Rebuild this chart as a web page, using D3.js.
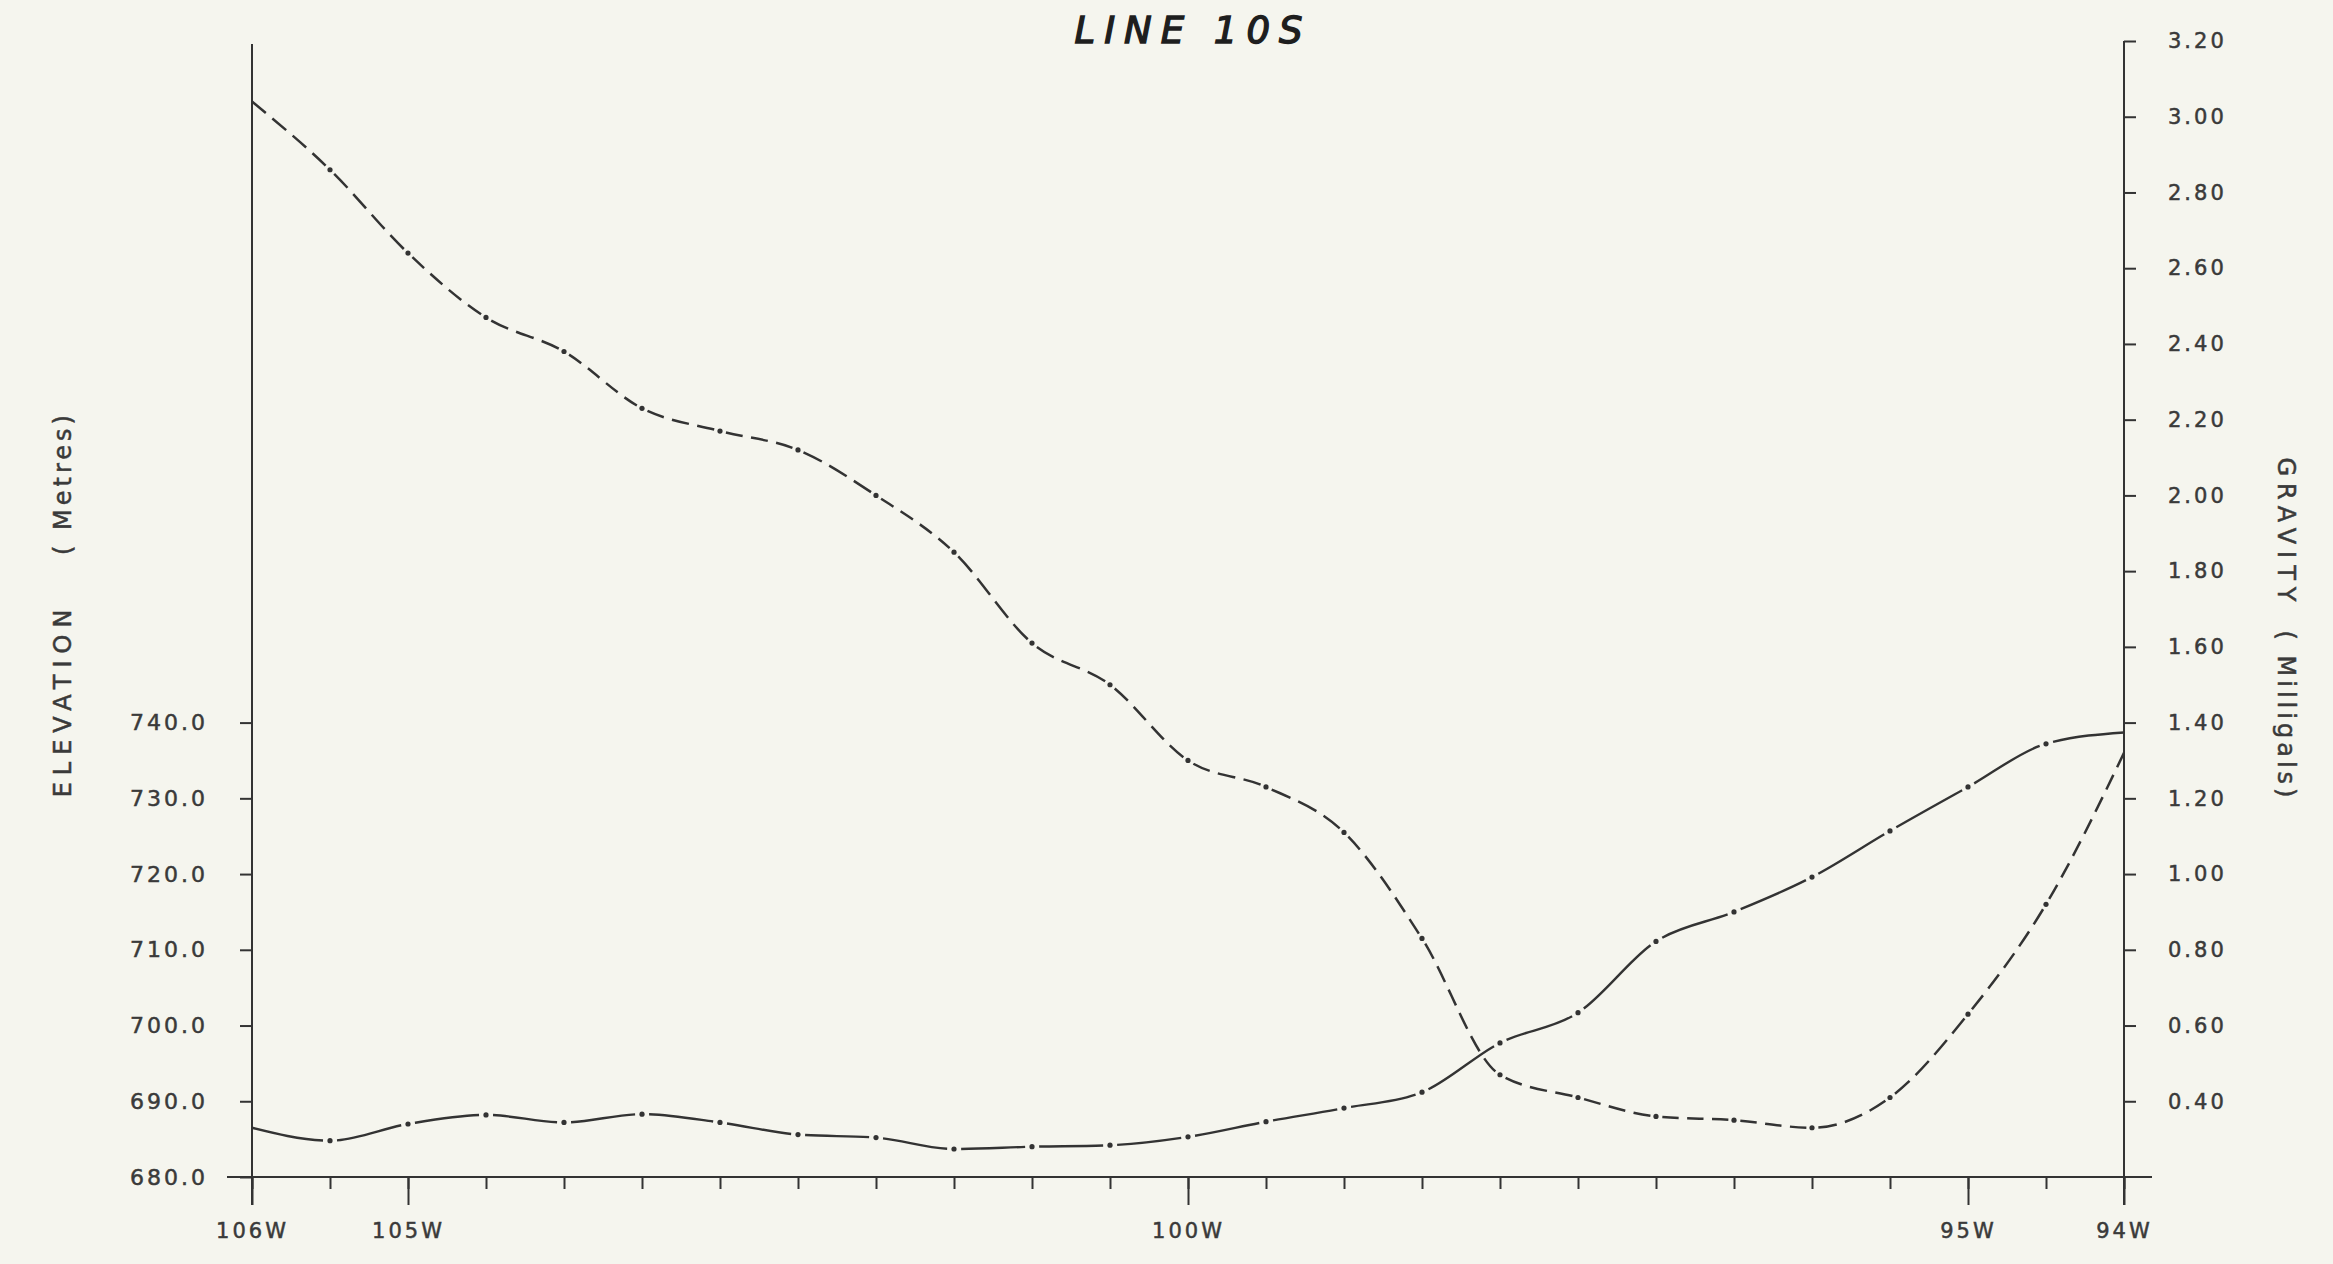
<!DOCTYPE html>
<html>
<head>
<meta charset="utf-8">
<script src="https://cdn.jsdelivr.net/npm/d3@7"></script>
<style>
  html, body { margin: 0; padding: 0; background: #f5f5ee; }
  svg { display: block; }
  text { font-family: 'DejaVu Sans', sans-serif; }
</style>
</head>
<body>
<div id="chart"></div>
<script>
// stations every half degree along the line (degrees west)
const stations = [106, 105.5, 105, 104.5, 104, 103.5, 103, 102.5, 102, 101.5, 101, 100.5,
  100, 99.5, 99, 98.5, 98, 97.5, 97, 96.5, 96, 95.5, 95, 94.5, 94]

// gravity, milligals (dashed curve)
const gravity = [3.04, 2.86, 2.64, 2.47, 2.38, 2.23, 2.17, 2.12, 2.0, 1.85, 1.61, 1.5,
  1.3, 1.23, 1.11, 0.83, 0.47, 0.41, 0.36, 0.35, 0.33, 0.41, 0.63, 0.92, 1.32]

// elevation, metres (long dash curve)
const elevation = [686.5, 684.8, 687.0, 688.2, 687.2, 688.3, 687.2, 685.6, 685.2, 683.7, 684.0, 684.2,
  685.3, 687.3, 689.1, 691.2, 697.7, 701.7, 711.1, 715.0, 719.6, 725.7, 731.5, 737.2, 738.7]

const gravityTicks = [0.4, 0.6, 0.8, 1.0, 1.2, 1.4, 1.6, 1.8, 2.0, 2.2, 2.4, 2.6, 2.8, 3.0, 3.2]
const elevationTicks = [680, 690, 700, 710, 720, 730, 740]
const labelledStations = [106, 105, 100, 95, 94]

const width = 2333
const height = 1264
const ink = '#333'

const svg = d3
  .select('#chart')
  .append('svg')
  .attr('width', width)
  .attr('height', height)

svg
  .append('rect')
  .attr('width', width)
  .attr('height', height)
  .attr('fill', '#f5f5ee')

const x = d3.scaleLinear().domain([106, 94]).range([252, 2124])
const yGrav = d3.scaleLinear().domain([0.2, 3.2]).range([1177, 41])
const yElev = d3.scaleLinear().domain([680, 830]).range([1177, 41])

const baseY = yElev(680)

// axis frame lines
const frame = svg.append('g').attr('stroke', ink).attr('stroke-width', 2)
frame.append('line')
  .attr('x1', x(106) - 25).attr('x2', x(94) + 28)
  .attr('y1', baseY).attr('y2', baseY)
frame.append('line')
  .attr('x1', x(106)).attr('x2', x(106))
  .attr('y1', yGrav(3.2) + 3).attr('y2', baseY + 28)
frame.append('line')
  .attr('x1', x(94)).attr('x2', x(94))
  .attr('y1', yGrav(3.2)).attr('y2', baseY + 28)

function styleAxis(g, size) {
  g.select('.domain').remove()
  g.selectAll('.tick line').attr('stroke', ink).attr('stroke-width', 2)
  g.selectAll('.tick text')
    .attr('fill', '#3a3a3a')
    .attr('stroke', '#3a3a3a')
    .attr('stroke-width', 0.5)
    .attr('font-size', size)
    .attr('letter-spacing', 3)
    .style('font-family', "'DejaVu Sans', sans-serif")
}

// left elevation axis
svg
  .append('g')
  .attr('transform', `translate(${x(106)},0)`)
  .call(
    d3.axisLeft(yElev)
      .tickValues(elevationTicks)
      .tickSize(12)
      .tickPadding(32)
      .tickFormat(d3.format('.1f'))
  )
  .call(g => styleAxis(g, 22))

// right gravity axis
svg
  .append('g')
  .attr('transform', `translate(${x(94)},0)`)
  .call(
    d3.axisRight(yGrav)
      .tickValues(gravityTicks)
      .tickSize(12)
      .tickPadding(32)
      .tickFormat(d3.format('.2f'))
  )
  .call(g => styleAxis(g, 21))

// bottom axis, minor ticks at each station
svg
  .append('g')
  .attr('transform', `translate(0,${baseY})`)
  .call(d3.axisBottom(x).tickValues(stations).tickSize(12).tickFormat(''))
  .call(g => styleAxis(g, 21))

// bottom axis, labelled degrees
svg
  .append('g')
  .attr('transform', `translate(0,${baseY})`)
  .call(
    d3.axisBottom(x)
      .tickValues(labelledStations)
      .tickSize(28)
      .tickPadding(18)
      .tickFormat(d => d + 'W')
  )
  .call(g => styleAxis(g, 21))

// curves
const line = d3
  .line()
  .x(d => x(d.lon))
  .y(d => d.y)
  .curve(d3.curveMonotoneX)

const gravPts = stations.map((s, i) => ({ lon: s, y: yGrav(gravity[i]) }))
const elevPts = stations.map((s, i) => ({ lon: s, y: yElev(elevation[i]) }))

function stationLengths(node, pts) {
  const total = node.getTotalLength()
  return pts.map((p, i) => {
    if (i === 0) return 0
    if (i === pts.length - 1) return total
    const tx = x(p.lon)
    let lo = 0
    let hi = total
    for (let k = 0; k < 40; k++) {
      const mid = (lo + hi) / 2
      if (node.getPointAtLength(mid).x < tx) lo = mid
      else hi = mid
    }
    return (lo + hi) / 2
  })
}

// builds a dasharray that leaves a gap round every station dot
function dashPattern(lengths, gap, dash, space) {
  const runs = []
  for (let i = 0; i < lengths.length - 1; i++) {
    const L = lengths[i + 1] - lengths[i]
    const g0 = i === 0 ? 0 : gap
    const g1 = i === lengths.length - 2 ? 0 : gap
    const avail = L - g0 - g1
    runs.push([false, g0])
    if (dash == null) {
      runs.push([true, avail])
    } else {
      const k = Math.max(1, Math.round((avail + space) / (dash + space)))
      const d = (avail - (k - 1) * space) / k
      for (let j = 0; j < k; j++) {
        if (j) runs.push([false, space])
        runs.push([true, d])
      }
    }
    runs.push([false, g1])
  }
  const arr = []
  let cur = true
  let acc = 0
  runs.forEach(([on, len]) => {
    if (on === cur) acc += len
    else {
      arr.push(acc)
      cur = on
      acc = len
    }
  })
  arr.push(acc)
  if (arr.length % 2) arr.push(0)
  return arr.map(v => v.toFixed(2)).join(' ')
}

function drawCurve(pts, cls, gap, dash, space, sw) {
  const path = svg
    .append('path')
    .datum(pts)
    .attr('class', cls)
    .attr('d', line)
    .attr('fill', 'none')
    .attr('stroke', ink)
    .attr('stroke-width', sw)
    .attr('stroke-linecap', 'butt')

  const lengths = stationLengths(path.node(), pts)
  path.attr('stroke-dasharray', dashPattern(lengths, gap, dash, space))

  svg
    .append('g')
    .selectAll('circle')
    .data(pts.slice(1, -1))
    .enter()
    .append('circle')
    .attr('cx', d => x(d.lon))
    .attr('cy', d => d.y)
    .attr('r', 2.6)
    .attr('fill', ink)
}

drawCurve(elevPts, 'elevation', 7, null, null, 2.4)
drawCurve(gravPts, 'gravity', 6, 18, 8.5, 2.5)

// titles
svg
  .append('text')
  .text('LINE 10S')
  .attr('x', (x(106) + x(94)) / 2 + 5)
  .attr('y', 43)
  .attr('text-anchor', 'middle')
  .attr('font-size', 37)
  .attr('font-style', 'italic')
  .attr('letter-spacing', 9)
  .attr('fill', '#1e1e1e')
  .attr('stroke', '#1e1e1e')
  .attr('stroke-width', 1.4)

function sideLabel(txt, cx, cy, angle, spacing) {
  svg
    .append('text')
    .text(txt)
    .attr('transform', `translate(${cx},${cy}) rotate(${angle})`)
    .attr('text-anchor', 'middle')
    .attr('dy', '0.35em')
    .attr('font-size', 24)
    .attr('letter-spacing', spacing)
    .attr('fill', '#3a3a3a')
    .attr('stroke', '#3a3a3a')
    .attr('stroke-width', 0.5)
    .style('white-space', 'pre')
}

sideLabel('ELEVATION', 63, 700, -90, 7)
sideLabel('( Metres)', 63, 483, -90, 4)
sideLabel('GRAVITY', 2286, 533, 90, 7)
sideLabel('( Milligals)', 2286, 716, 90, 4)
</script>
</body>
</html>
